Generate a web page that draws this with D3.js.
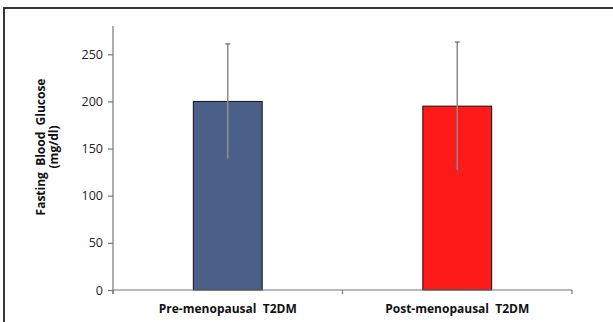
<!DOCTYPE html>
<html><head><meta charset="utf-8">
<script src="https://cdn.jsdelivr.net/npm/d3@7"></script>
<style>body{margin:0;background:#fff}svg{display:block}</style>
</head><body>
<svg id="c" width="613" height="322"></svg>
<script>
const categories = ["Pre-menopausal  T2DM", "Post-menopausal  T2DM"];
const means = [200, 195];
const errors = [61, 68];
const colors = ["#4a6089", "#ff1a1a"];
const yTicks = [0, 50, 100, 150, 200, 250];

const svg = d3.select("#c");
const font = "'Open Sans', 'DejaVu Sans', sans-serif";

svg.append("rect").attr("x", 4).attr("y", 8).attr("width", 640).attr("height", 340)
  .attr("fill", "none").attr("stroke", "#222").attr("stroke-width", 1.8);

const x0 = 113, x1 = 572, yTop = 26, yBot = 290;
const x = d3.scaleBand().domain(categories).range([x0, x1]).paddingInner(0.7).paddingOuter(0.35);
const y = d3.scaleLinear().domain([0, 280]).range([yBot, yTop]);

// bars
svg.selectAll("rect.bar").data(categories).join("rect").attr("class", "bar")
  .attr("x", d => x(d)).attr("width", x.bandwidth())
  .attr("y", (d, i) => y(means[i])).attr("height", (d, i) => y(0) - y(means[i]))
  .attr("fill", (d, i) => colors[i]).attr("stroke", "#111").attr("stroke-width", 1);

// error bars
const eb = svg.append("g");
categories.forEach((c, i) => {
  const cx = x(c) + x.bandwidth() / 2;
  eb.append("line").attr("x1", cx).attr("x2", cx)
    .attr("y1", y(means[i] - errors[i])).attr("y2", y(means[i] + errors[i]))
    .attr("stroke", "#8c8c8c").attr("stroke-width", 1.5);
  [means[i] - errors[i], means[i] + errors[i]].forEach(v => {
    eb.append("line").attr("x1", cx - 2.5).attr("x2", cx + 2.5)
      .attr("y1", y(v)).attr("y2", y(v)).attr("stroke", "#666").attr("stroke-width", 1.2);
  });
});

// y axis
const yAxis = svg.append("g").attr("transform", `translate(${x0},0)`)
  .call(d3.axisLeft(y).tickValues(yTicks).tickSize(5).tickPadding(5));
yAxis.select(".domain").attr("d", `M0,${yTop}V${yBot + 4}`);
yAxis.selectAll("line, path").attr("stroke", "#777").attr("stroke-width", 1.2);
yAxis.selectAll("text").attr("font-family", font).attr("font-size", 12.5).attr("fill", "#222");

// x axis
const xAxis = svg.append("g").attr("transform", `translate(0,${yBot})`);
xAxis.append("line").attr("x1", x0).attr("x2", x1).attr("stroke", "#777").attr("stroke-width", 1.2);
const step = (x1 - x0) / categories.length;
d3.range(categories.length + 1).forEach(k => {
  xAxis.append("line").attr("x1", x0 + k * step).attr("x2", x0 + k * step)
    .attr("y1", 0).attr("y2", 4).attr("stroke", "#777").attr("stroke-width", 1.2);
});
xAxis.selectAll("text.cat").data(categories).join("text").attr("class", "cat")
  .attr("x", d => x(d) + x.bandwidth() / 2).attr("y", 23)
  .attr("text-anchor", "middle").attr("font-family", font).attr("font-size", 12)
  .attr("font-weight", "bold").attr("fill", "#111")
  .style("white-space", "pre").text(d => d);

// y label
const yl = svg.append("text").attr("transform", "translate(45,147) rotate(-90)")
  .attr("text-anchor", "middle").attr("font-family", font).attr("font-size", 12)
  .attr("font-weight", "bold").attr("fill", "#111");
yl.append("tspan").attr("x", 0).attr("dy", 0).text("Fasting  Blood  Glucose").style("white-space", "pre");
yl.append("tspan").attr("x", 0).attr("dy", 13).text("(mg/dl)");
</script>
</body></html>
